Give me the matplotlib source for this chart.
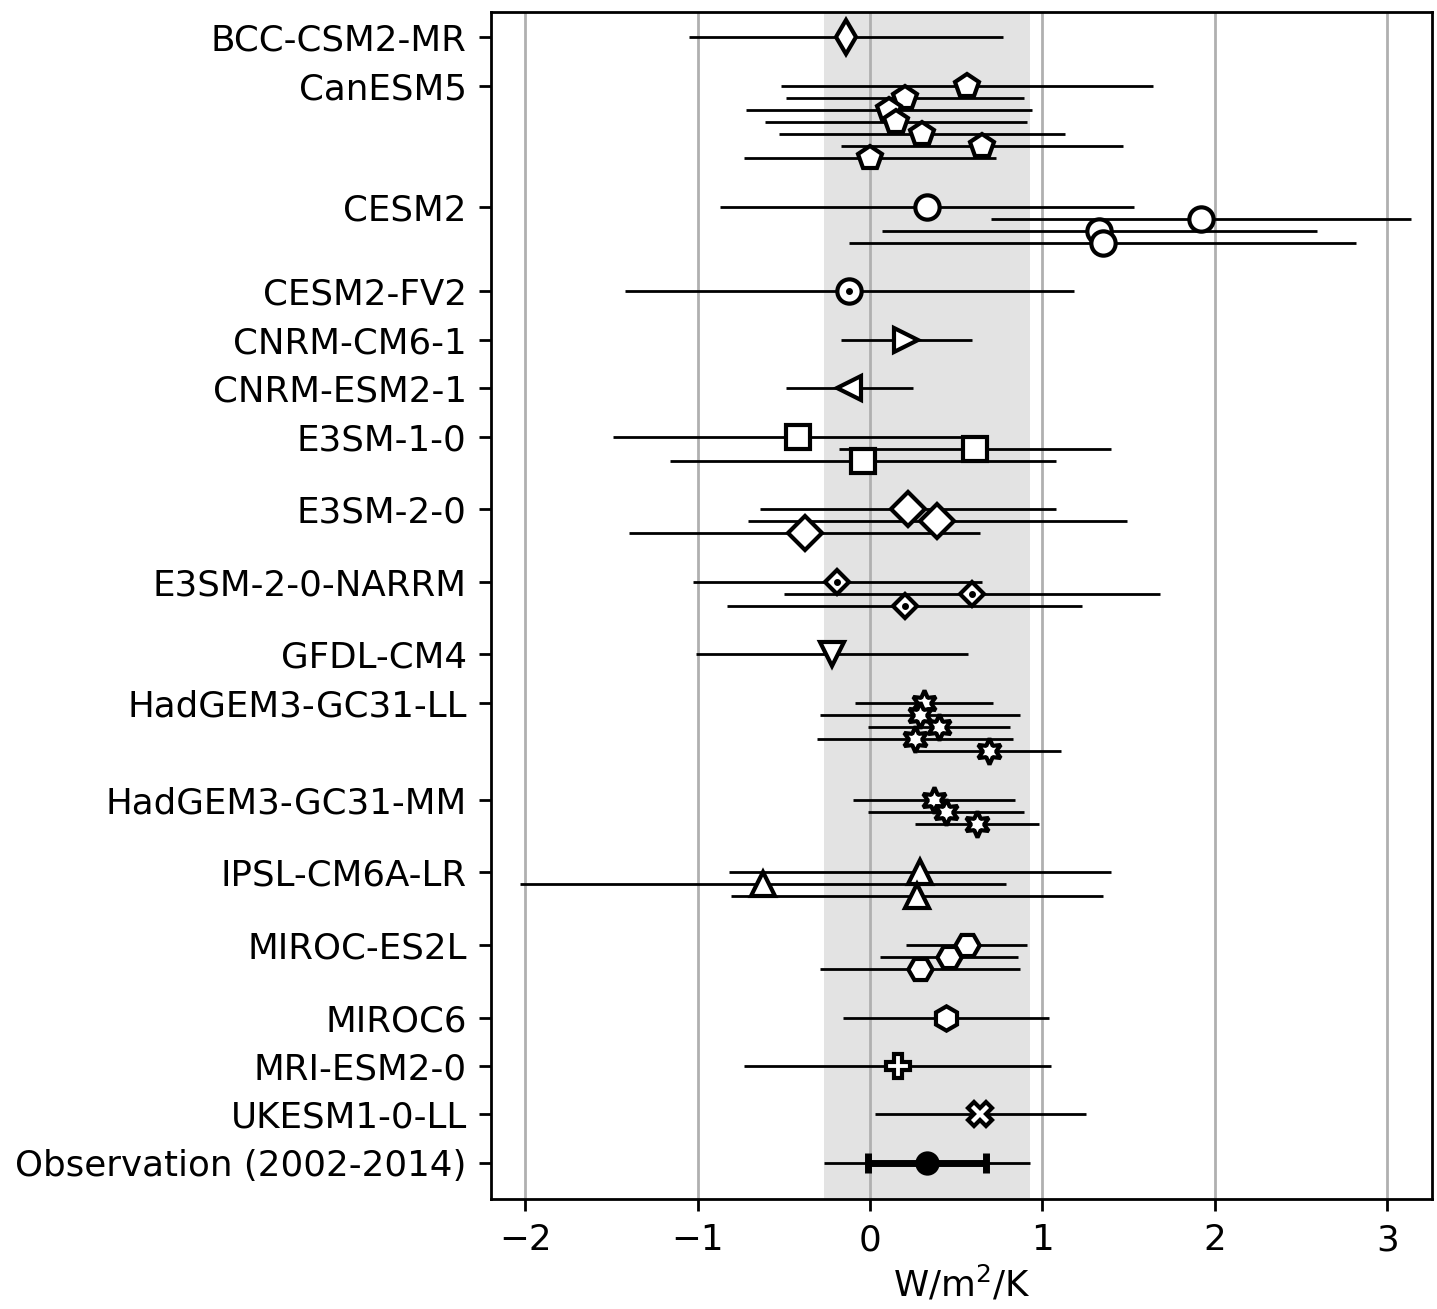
import numpy as np
import matplotlib.pyplot as plt

# feedback parameter per model member (mean and half-width of the range), W/m2/K
models = ['BCC-CSM2-MR', 'CanESM5', 'CESM2', 'CESM2-FV2', 'CNRM-CM6-1',
          'CNRM-ESM2-1', 'E3SM-1-0', 'E3SM-2-0', 'E3SM-2-0-NARRM', 'GFDL-CM4',
          'HadGEM3-GC31-LL', 'HadGEM3-GC31-MM', 'IPSL-CM6A-LR', 'MIROC-ES2L',
          'MIROC6', 'MRI-ESM2-0', 'UKESM1-0-LL']

means = [
    [-0.14],
    [0.56, 0.20, 0.11, 0.15, 0.30, 0.65, 0.00],
    [0.33, 1.92, 1.33, 1.35],
    [-0.12],
    [0.21],
    [-0.12],
    [-0.42, 0.61, -0.04],
    [0.22, 0.39, -0.38],
    [-0.19, 0.59, 0.20],
    [-0.22],
    [0.31, 0.29, 0.40, 0.26, 0.69],
    [0.37, 0.44, 0.62],
    [0.29, -0.62, 0.27],
    [0.56, 0.46, 0.29],
    [0.44],
    [0.16],
    [0.64],
]

errs = [
    [0.91],
    [1.08, 0.69, 0.83, 0.76, 0.83, 0.82, 0.73],
    [1.20, 1.22, 1.26, 1.47],
    [1.30],
    [0.38],
    [0.37],
    [1.07, 0.79, 1.12],
    [0.86, 1.10, 1.02],
    [0.84, 1.09, 1.03],
    [0.79],
    [0.40, 0.58, 0.41, 0.57, 0.42],
    [0.47, 0.45, 0.36],
    [1.11, 1.41, 1.08],
    [0.35, 0.40, 0.58],
    [0.60],
    [0.89],
    [0.61],
]

markers = ['d', 'p', 'o', 'o', '>', '<', 's', 'D', 'D', 'v',
           (6, 1, 0), (6, 1, 0), '^', 'H', 'h', 'P', 'X']
msizes = [7, 7, 7, 7, 7, 7, 7, 7, 5, 7, 7.5, 7.5, 7, 7, 7, 7, 7]
dotted = ['CESM2-FV2', 'E3SM-2-0-NARRM']

obs_label = 'Observation (2002-2014)'
obs_mean = 0.33
obs_err = 0.34
obs_err2 = 0.595

fig = plt.figure(figsize=(1437 / 250, 1309 / 250), dpi=250)
ax = fig.add_axes([0.3417, 0.084, 0.6548, 0.9068])

ax.axvspan(obs_mean - obs_err2, obs_mean + obs_err2, color='0.89', lw=0, zorder=0)
ax.grid(axis='x', color='#b0b0b0', lw=0.8)

yticks = []
pos = 0.0
for name, m, e, mk, ms in zip(models, means, errs, markers, msizes):
    ys = pos + 0.25 * np.arange(len(m))
    yticks.append(ys[0])
    ax.errorbar(m, ys, xerr=e, linestyle='none', marker=mk, ms=ms, mfc='white',
                mec='k', mew=1.2, ecolor='k', elinewidth=0.8, capsize=0, zorder=3)
    if name in dotted:
        ax.plot(m, ys, '.', color='k', ms=2, zorder=4)
    pos = ys[-1] + 1

# observational estimate
ax.errorbar([obs_mean], [pos], xerr=obs_err2, fmt='none', ecolor='k',
            elinewidth=0.8, capsize=0, zorder=3)
ax.errorbar([obs_mean], [pos], xerr=obs_err, fmt='o', ms=6, color='k',
            elinewidth=2, capsize=3, capthick=2, zorder=4)
yticks.append(pos)

ax.set_yticks(yticks)
ax.set_yticklabels(models + [obs_label])
ax.set_ylim(24, -0.52)
ax.set_xlim(-2.2, 3.26)
ax.set_xticks([-2, -1, 0, 1, 2, 3])
ax.tick_params(labelsize=10.25)
ax.set_xlabel('W/m$^2$/K', fontsize=10.25, labelpad=2)

fig.savefig('out.png', dpi=250)
